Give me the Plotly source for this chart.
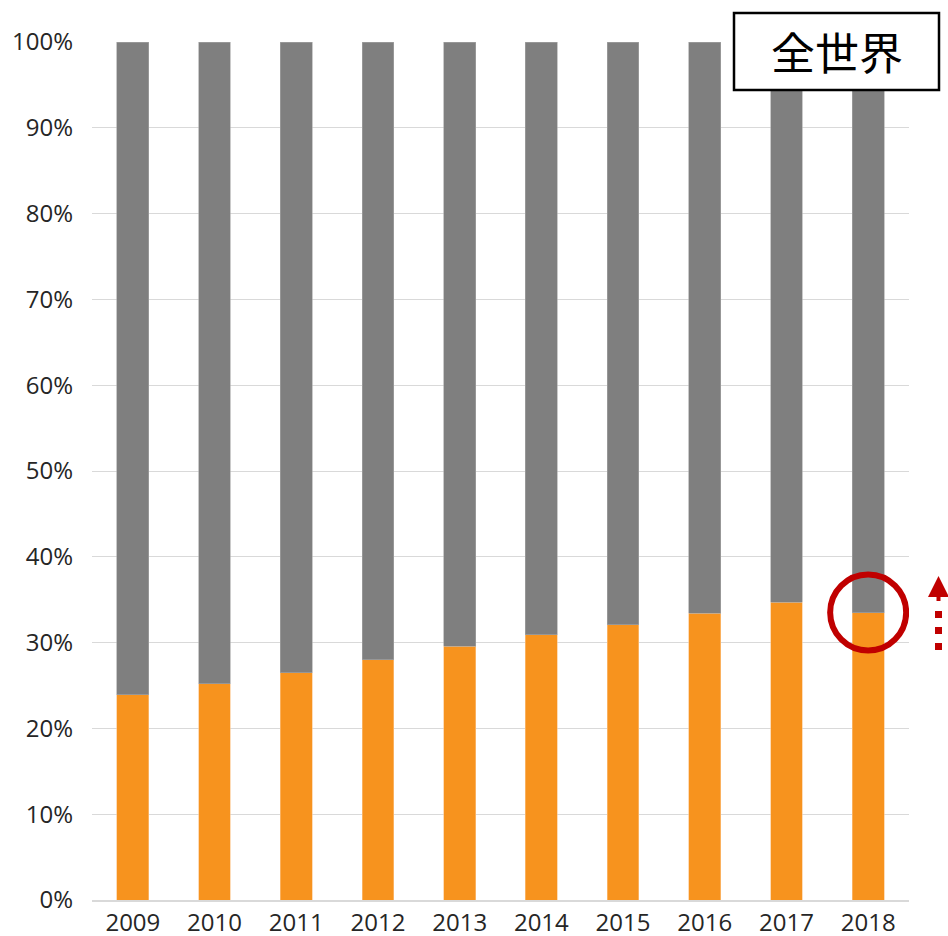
import plotly.graph_objects as go

years = [2009, 2010, 2011, 2012, 2013, 2014, 2015, 2016, 2017, 2018]
share_orange = [23.9, 25.2, 26.5, 28.0, 29.6, 30.9, 32.1, 33.4, 34.7, 33.5]
share_gray = [100 - v for v in share_orange]
y_ticks = [0, 10, 20, 30, 40, 50, 60, 70, 80, 90, 100]
y_tick_labels = [f"{t}%" for t in y_ticks]
box_label = "全世界"

ORANGE = "#F7931E"
GRAY = "#7F7F7F"
RED = "#C00000"

fig = go.Figure()
fig.add_trace(go.Bar(x=years, y=share_orange, marker=dict(color=ORANGE, line=dict(color="#FBC58A", width=0.6)),
                     hoverinfo="skip", showlegend=False))
fig.add_trace(go.Bar(x=years, y=share_gray, marker=dict(color=GRAY, line=dict(color="#A6A6A6", width=0.6)),
                     hoverinfo="skip", showlegend=False))

W, H = 948, 936
L, R, T, B = 92, 948 - 909, 42, 936 - 900
pw, ph = W - L - R, H - T - B

# helpers: convert page pixel coordinates to paper coordinates
def px(xp):
    return (xp - L) / pw

def py(yp):
    return (H - B - yp) / ph

shapes = []
# highlight circle around 2018 value
shapes.append(dict(type="circle", xref="x", yref="y", xsizemode="pixel", ysizemode="pixel",
                   xanchor=years[-1], yanchor=share_orange[-1],
                   x0=-38, x1=38, y0=-38, y1=38, line=dict(color=RED, width=6), layer="above"))
# dotted arrow stem
shapes.append(dict(type="line", xref="paper", yref="paper", x0=px(938.5), x1=px(938.5),
                   y0=py(650), y1=py(602), line=dict(color=RED, width=7, dash="7px,9px"), layer="above"))
shapes.append(dict(type="line", xref="paper", yref="paper", x0=px(938.5), x1=px(938.5),
                   y0=py(601), y1=py(594), line=dict(color=RED, width=4), layer="above"))
# arrow head
hx = [px(928), px(949), px(938.5)]
hy = [py(597), py(597), py(576)]
shapes.append(dict(type="path", xref="paper", yref="paper",
                   path=f"M {hx[0]} {hy[0]} L {hx[1]} {hy[1]} L {hx[2]} {hy[2]} Z",
                   fillcolor=RED, line=dict(width=0), layer="above"))
# label box
shapes.append(dict(type="rect", xref="paper", yref="paper", x0=px(734), x1=px(939),
                   y0=py(90), y1=py(13), fillcolor="white", line=dict(color="black", width=2.5), layer="above"))

fig.update_layout(
    width=W, height=H,
    margin=dict(l=L, r=R, t=T, b=B),
    barmode="stack", bargap=0.61,
    plot_bgcolor="white", paper_bgcolor="white",
    font=dict(family="Open Sans, Noto Sans CJK JP", size=24, color="#262626"),
    shapes=shapes,
    annotations=[dict(text=box_label, xref="paper", yref="paper", x=px(836.5), y=py(51),
                      xanchor="center", yanchor="middle", showarrow=False,
                      font=dict(family="Noto Sans CJK JP", size=44, color="black"))],
    xaxis=dict(tickmode="array", tickvals=years, ticktext=[str(y) for y in years],
               range=[years[0] - 0.5, years[-1] + 0.5], showgrid=False, automargin=False,
               showline=True, linecolor="#D9D9D9", linewidth=2, ticks="", zeroline=False,
               ticklabelstandoff=0, tickfont=dict(size=24)),
    yaxis=dict(tickmode="array", tickvals=y_ticks, ticktext=y_tick_labels, range=[0, 100],
               showgrid=True, gridcolor="#D9D9D9", gridwidth=1, zeroline=False, ticks="",
               automargin=False, ticklabelstandoff=18, tickfont=dict(size=24)),
)

fig.write_html(
    "out.html",
    config={"displayModeBar": False, "staticPlot": True},
    post_script="document.body.style.margin='0';document.body.style.overflow='hidden';",
)
